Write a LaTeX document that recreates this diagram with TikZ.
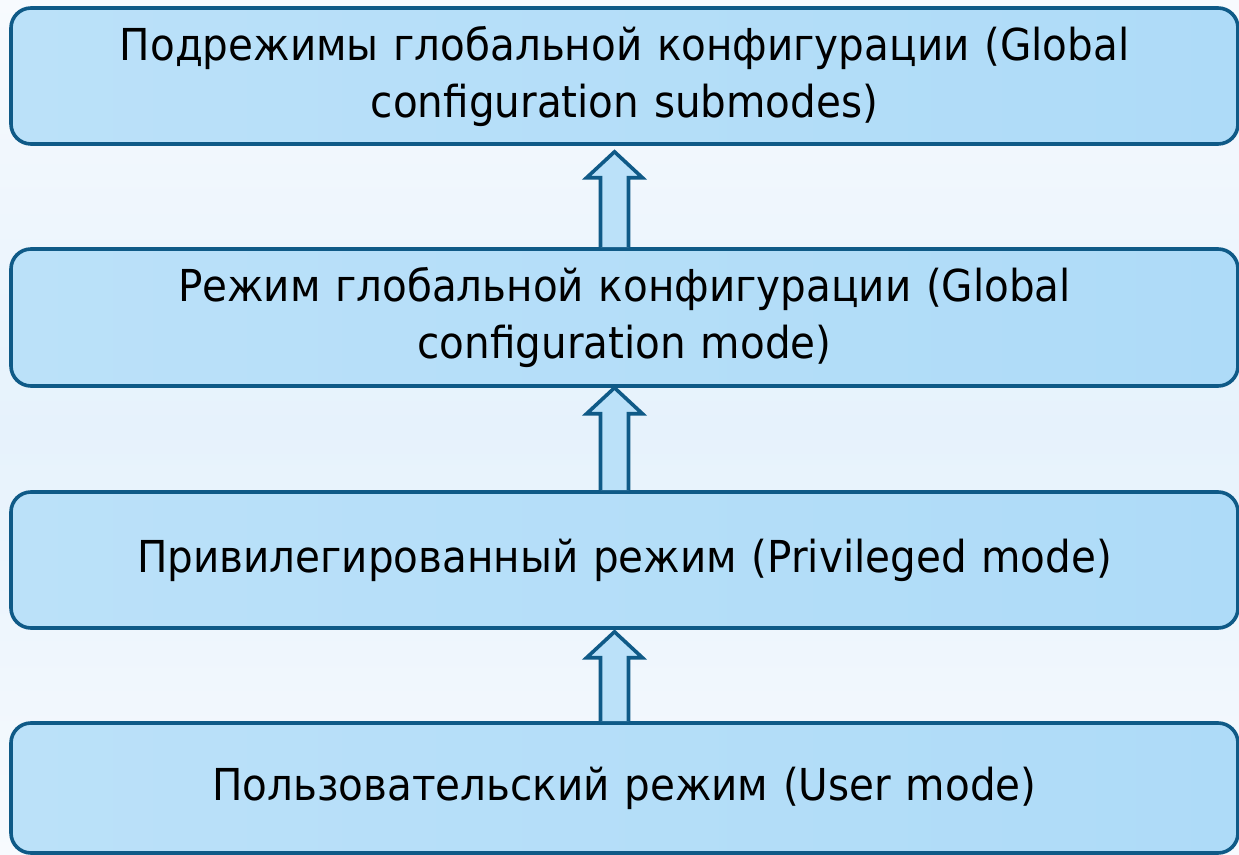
\documentclass[tikz,border=0pt]{standalone}
\usepackage{fontspec}
\setmainfont[FakeStretch=0.92]{DejaVu Sans}
\usetikzlibrary{calc}
\definecolor{boxfill}{HTML}{BBE1F9}
\definecolor{boxfill2}{HTML}{AEDBF8}
\definecolor{boxline}{HTML}{0F5A87}
\definecolor{bgA}{HTML}{F7FAFE}
\definecolor{bgB}{HTML}{E6F2FC}
\tikzset{
  modebox/.style={draw=boxline, line width=3.6pt, rounded corners=20pt,
    left color=boxfill, right color=boxfill2, minimum width=1227pt,
    text width=1180pt, align=center, inner sep=0pt,
    font=\fontsize{44}{57}\selectfont},
  uparrow/.style={draw=boxline, line width=3.6pt, fill=boxfill, line join=miter}
}
\begin{document}
\begin{tikzpicture}[x=1pt,y=1pt]
\useasboundingbox (0,0) rectangle (1239,854);
\shade[top color=bgA, bottom color=bgB] (0,854) rectangle (1239,427);
\shade[top color=bgB, bottom color=bgA] (0,427) rectangle (1239,0);
\node[modebox, minimum height=136pt] (b1) at (624.5,778) {Подрежимы глобальной конфигурации (Global\\ configuration submodes)};
\node[modebox, minimum height=137pt] (b2) at (624.5,536.5) {Режим глобальной конфигурации (Global\\ configuration mode)};
\node[modebox, minimum height=136pt] (b3) at (624.5,294) {Привилегированный режим (Privileged mode)};
\node[modebox, minimum height=130pt] (b4) at (624.5,66) {Пользовательский режим (User mode)};
% block arrows
\foreach \lo/\hi/\gap in {b2/b1/6, b3/b2/0, b4/b3/2}{
  \coordinate (t) at ($(\hi.south)+(-10,-\gap)$);
  \coordinate (s) at ($(\lo.north)+(-10,0)$);
  \draw[uparrow] ($(s)+(-14,0)$) -- ($(t)+(-14,-26)$) -- ($(t)+(-28,-26)$) -- (t)
     -- ($(t)+(28,-26)$) -- ($(t)+(14,-26)$) -- ($(s)+(14,0)$);
}
\end{tikzpicture}
\end{document}
